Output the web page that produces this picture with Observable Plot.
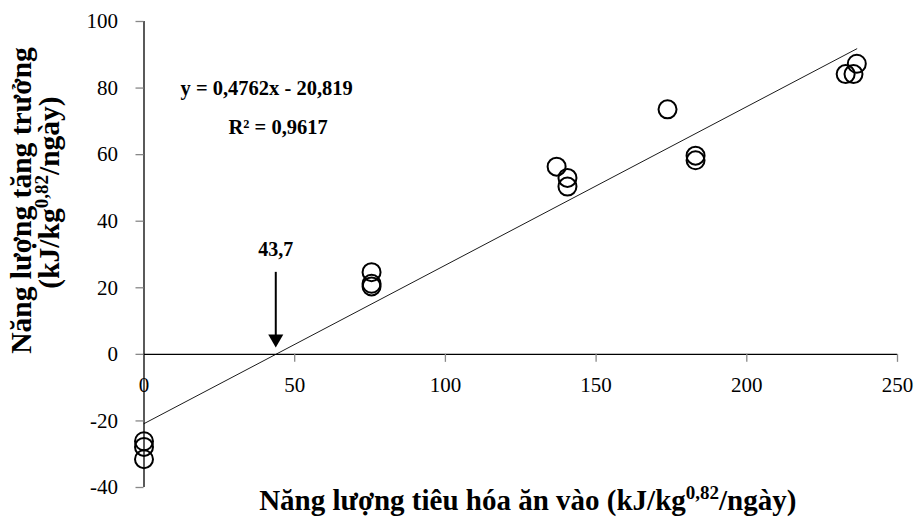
<!DOCTYPE html>
<html>
<head>
<meta charset="utf-8">
<script src="https://cdn.jsdelivr.net/npm/d3@7"></script>
<script src="https://cdn.jsdelivr.net/npm/@observablehq/plot@0.6"></script>
<style>
  html, body { margin: 0; padding: 0; background: #fff; }
</style>
</head>
<body>
<div id="chart"></div>
<script>
// ---- data ----
const intake = [0, 0, 0, 75.5, 75.5, 75.5, 136.9, 140.5, 140.5, 173.7, 183, 183, 232.8, 235.4, 236.5];
const growth = [-26.1, -27.8, -31.5, 24.7, 21.2, 20.4, 56.4, 53.0, 50.4, 73.6, 59.7, 58.3, 84.2, 84.2, 87.3];
const xTicks = [0, 50, 100, 150, 200, 250];
const yTicks = [-40, -20, 0, 20, 40, 60, 80, 100];
const slope = 0.4762;
const intercept = -20.819;
const rSquared = 0.9617;
const eqText = "y = 0,4762x - 20,819";
const r2Text = "R² = 0,9617";
const xLabel = "Năng lượng tiêu hóa ăn vào (kJ/kg0,82/ngày)";
const yLabel1 = "Năng lượng tăng trưởng";
const yLabel2 = "(kJ/kg0,82/ngày)";

const points = intake.map((x, i) => ({x, y: growth[i]}));
const xIntercept = -intercept / slope;
const fitLine = [0, d3.max(intake)].map(x => ({x, y: slope * x + intercept}));
const interceptLabel = d3.format(".1f")(xIntercept).replace(".", ",");

const serif = "'Liberation Serif', 'Times New Roman', serif";
const T = {fontFamily: serif, fill: "#000"};

const chart = Plot.plot({
  width: 921,
  height: 526,
  marginLeft: 143.5,
  marginRight: 24,
  marginTop: 21,
  marginBottom: 39,
  style: {fontFamily: serif, background: "#fff", overflow: "visible"},
  x: {domain: [0, 250], axis: null},
  y: {domain: [-40, 100], axis: null},
  marks: [
    // axis lines
    Plot.ruleX([0], {stroke: "#000", strokeWidth: 1.3}),
    Plot.ruleY([0], {stroke: "#000", strokeWidth: 1.3}),
    // y ticks (outward left)
    Plot.ruleY(yTicks, {y: d => d, x1: 0, x2: 0, insetLeft: -8, stroke: "#888", strokeWidth: 1.3}),
    // x ticks (downward from y=0)
    Plot.ruleX(xTicks.filter(d => d !== 0), {x: d => d, y1: 0, y2: 0, insetTop: 0, insetBottom: -8, stroke: "#888", strokeWidth: 1.3}),
    // tick labels
    Plot.text(yTicks, {...T, x: 0, y: d => d, text: d => String(d), textAnchor: "end", lineAnchor: "middle", dx: -26, fontSize: 21}),
    Plot.text(xTicks, {...T, x: d => d, y: 0, text: d => String(d), lineAnchor: "middle", dy: 31, fontSize: 21}),
    // regression line
    Plot.line(fitLine, {x: "x", y: "y", stroke: "#000", strokeWidth: 0.9}),
    // data points
    Plot.dot(points, {x: "x", y: "y", r: 9, stroke: "#000", strokeWidth: 2, fill: "none"}),
    // arrow annotation at x-intercept
    Plot.ruleX([xIntercept], {x: d => d, y1: 0, y2: 0, insetTop: -82, insetBottom: 16, stroke: "#000", strokeWidth: 2}),
    Plot.dot([xIntercept], {x: d => d, y: 0, dy: -15.5, symbol: "triangle", rotate: 180, r: 5.6, fill: "#000", stroke: "none"}),
    Plot.text([interceptLabel], {...T, x: xIntercept, y: 0, text: d => d, lineAnchor: "middle", dy: -105, fontSize: 20, fontWeight: "bold"}),
    // regression equation
    Plot.text([eqText], {...T, frameAnchor: "top-left", text: d => d, dx: 180 - 143.5, dy: 88 - 21, textAnchor: "start", lineAnchor: "middle", fontSize: 20.5, fontWeight: "bold"}),
    Plot.text([r2Text], {...T, frameAnchor: "top-left", text: d => d, dx: 228 - 143.5, dy: 127 - 21, textAnchor: "start", lineAnchor: "middle", fontSize: 20.5, fontWeight: "bold"}),
    // axis titles
    Plot.text([xLabel], {...T, frameAnchor: "bottom", text: d => d, textAnchor: "middle", lineAnchor: "middle", dx: 7, dy: 13, fontSize: 29, fontWeight: "bold"}),
    Plot.text([yLabel1], {...T, frameAnchor: "left", text: d => d, textAnchor: "middle", lineAnchor: "middle", dx: 21 - 143.5, dy: 200 - 254, rotate: -90, fontSize: 29.5, fontWeight: "bold"}),
    Plot.text([yLabel2], {...T, frameAnchor: "left", text: d => d, textAnchor: "middle", lineAnchor: "middle", dx: 49 - 143.5, dy: 192 - 254, rotate: -90, fontSize: 29.5, fontWeight: "bold"})
  ]
});

// superscript "0,82" inside the unit labels
d3.select(chart).selectAll("text").filter(function() {
  return this.textContent.includes("kJ/kg0,82");
}).each(function() {
  const full = this.textContent;
  const idx = full.indexOf("kJ/kg") + 5;
  const before = full.slice(0, idx);
  const sup = "0,82";
  const after = full.slice(idx + sup.length);
  const t = d3.select(this);
  t.text(null);
  t.append("tspan").text(before);
  t.append("tspan").attr("font-size", 19).attr("dy", -11).text(sup);
  t.append("tspan").attr("dy", 11).text(after);
});

document.getElementById("chart").appendChild(chart);
</script>
</body>
</html>
